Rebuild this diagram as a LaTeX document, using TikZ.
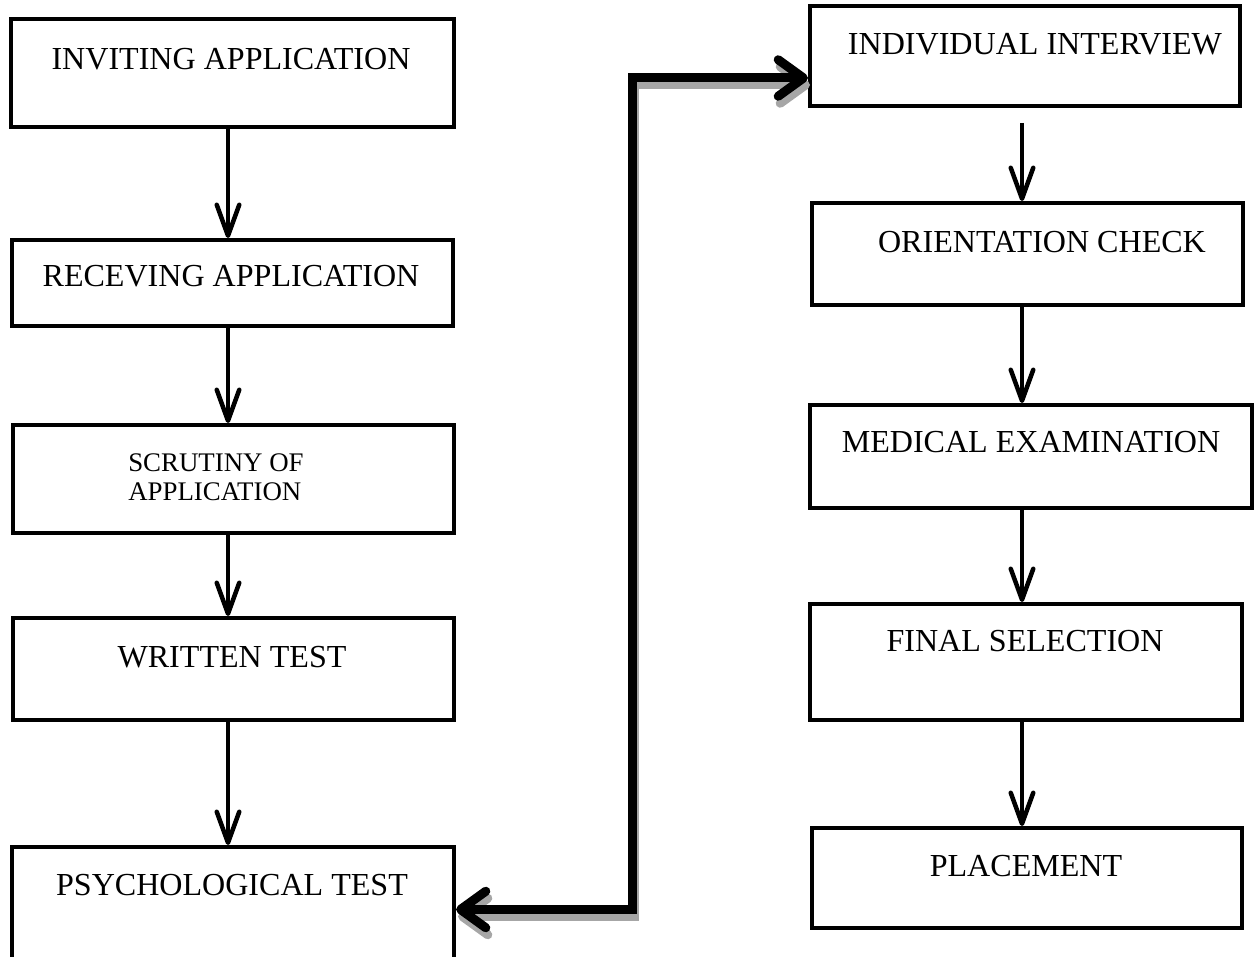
\documentclass[tikz,border=0pt]{standalone}
\usepackage{fontspec}
\setmainfont{Liberation Serif}
\usetikzlibrary{arrows.meta}

\newcommand\pxl{0.025cm}
\tikzset{
  box/.style 2 args={draw, line width=4*\pxl, minimum width=#1*\pxl, minimum height=#2*\pxl, inner sep=0pt},
  lbl/.style={anchor=base, inner sep=0pt, font=\fontsize{22.8}{27}\selectfont},
  flow/.style={line width=4.5*\pxl, -{Straight Barb[length=22pt,width=16pt,round]},
    preaction={draw=black!30, transform canvas={shift={(1,2)}}}},
  link/.style={line width=9*\pxl, {Straight Barb[length=18pt,width=26pt,round]}-{Straight Barb[length=18pt,width=26pt,round]}},
}

\begin{document}
\begin{tikzpicture}[x=0.025cm,y=-0.025cm]
\useasboundingbox (0,0) rectangle (1259,957);
\clip (0,0) rectangle (1259,957);

% left column
\node[box={443}{108}] (inv) at (232.5,73) {};
\node[box={441}{86}] (rec) at (232.5,283) {};
\node[box={441}{108}] (scr) at (233.5,479) {};
\node[box={441}{102}] (wrt) at (233.5,669) {};
\node[box={442}{125}] (psy) at (233,909.5) {};
\node[lbl] (tinv) at (231,70) {INVITING APPLICATION};
\node[lbl] (trec) at (231,287) {RECEVING APPLICATION};
\node[lbl, anchor=base west, align=left, font=\fontsize{19.1}{20.6}\selectfont] (tscr) at (128,500.5) {SCRUTINY OF\\APPLICATION};
\node[lbl] (twrt) at (232,668) {WRITTEN TEST};
\node[lbl] (tpsy) at (232,895) {PSYCHOLOGICAL TEST};

% right column
\node[box={430}{100}] (iv) at (1025,56) {};
\node[box={431}{102}] (ori) at (1027.5,254) {};
\node[box={442}{103}] (med) at (1031,456.5) {};
\node[box={432}{116}] (fin) at (1026,662) {};
\node[box={430}{100}] (pla) at (1027,878) {};
\node[lbl] (tiv) at (1035,55) {INDIVIDUAL INTERVIEW};
\node[lbl] (tori) at (1042,253) {ORIENTATION CHECK};
\node[lbl] (tmed) at (1031,453) {MEDICAL EXAMINATION};
\node[lbl] (tfin) at (1025,652) {FINAL SELECTION};
\node[lbl] (tpla) at (1026,876) {PLACEMENT};

% arrows
\coordinate (lx) at (228,0);
\coordinate (rx) at (1022,0);
\draw[flow] (inv.south -| lx) -- (rec.north -| lx);
\draw[flow] (rec.south -| lx) -- (scr.north -| lx);
\draw[flow] (scr.south -| lx) -- (wrt.north -| lx);
\draw[flow] (wrt.south -| lx) -- (psy.north -| lx);
\draw[flow, shorten <=15*\pxl] (iv.south -| rx) -- (ori.north -| rx);
\draw[flow] (ori.south -| rx) -- (med.north -| rx);
\draw[flow] (med.south -| rx) -- (fin.north -| rx);
\draw[flow] (fin.south -| rx) -- (pla.north -| rx);

% thick connector
\coordinate (top) at (632,78);
\draw[link, draw=black!35, transform canvas={shift={(2,7)}}] (psy.east) -| (top) -- (top -| iv.west);
\draw[link] (psy.east) -| (top) -- (top -| iv.west);
\end{tikzpicture}
\end{document}
